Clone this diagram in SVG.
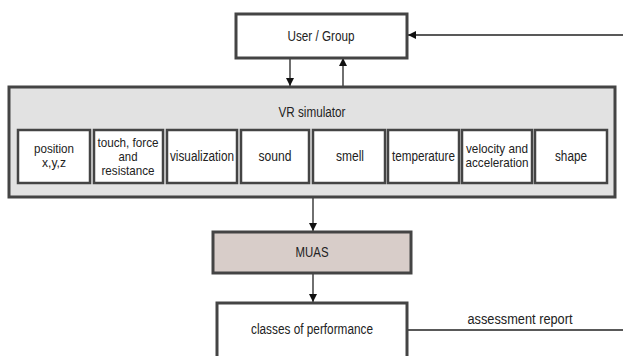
<svg xmlns="http://www.w3.org/2000/svg" width="623" height="356" viewBox="0 0 623 356">
<style>
.box{fill:#fff;stroke:#444;stroke-width:3}
.sub{fill:#fff;stroke:#444;stroke-width:2.5}
.vr{fill:#e2e2e2;stroke:#444;stroke-width:3}
.muas{fill:#d8cdc9;stroke:#444;stroke-width:3}
text{font-family:"Liberation Sans",Arial,sans-serif;font-size:14px;fill:#222;text-anchor:middle}
text.ml{font-size:13px}
.ln{stroke:#222;stroke-width:1.3;fill:none}
</style>
<defs>
<marker id="ah" markerWidth="8" markerHeight="8" refX="8" refY="4" orient="auto" markerUnits="userSpaceOnUse">
<path d="M0,0 L8,4 L0,8 Z" fill="#111"/>
</marker>
</defs>
<rect width="623" height="356" fill="#fff"/>
<g id="connectors">
<line class="ln" x1="623" y1="35" x2="408" y2="35" marker-end="url(#ah)"/>
<line class="ln" x1="290" y1="58" x2="290" y2="86" marker-end="url(#ah)"/>
<line class="ln" x1="343" y1="86" x2="343" y2="58" marker-end="url(#ah)"/>
<line class="ln" x1="313" y1="197" x2="313" y2="231" marker-end="url(#ah)"/>
<line class="ln" x1="313" y1="273" x2="313" y2="302" marker-end="url(#ah)"/>
<line class="ln" x1="407" y1="330" x2="623" y2="330"/>
<text x="520" y="324" textLength="105" lengthAdjust="spacingAndGlyphs">assessment report</text>
</g>
<g id="user-group">
<rect class="box" x="236" y="14" width="171" height="44"/>
<text x="321" y="41" textLength="67" lengthAdjust="spacingAndGlyphs">User / Group</text>
</g>
<g id="vr-simulator">
<rect class="vr" x="9" y="87" width="606" height="110"/>
<text x="312" y="117" textLength="67" lengthAdjust="spacingAndGlyphs">VR simulator</text>
</g>
<g id="position">
<rect class="sub" x="18" y="130" width="72" height="53"/>
<text class="ml" x="54" y="153" textLength="40" lengthAdjust="spacingAndGlyphs">position</text>
<text class="ml" x="54" y="167" textLength="24" lengthAdjust="spacingAndGlyphs">x,y,z</text>
</g>
<g id="touch">
<rect class="sub" x="94" y="130" width="69" height="53"/>
<text class="ml" x="128" y="147" textLength="61" lengthAdjust="spacingAndGlyphs">touch, force</text>
<text class="ml" x="128" y="161" textLength="19" lengthAdjust="spacingAndGlyphs">and</text>
<text class="ml" x="128" y="175" textLength="53" lengthAdjust="spacingAndGlyphs">resistance</text>
</g>
<g id="visualization">
<rect class="sub" x="167" y="130" width="70" height="53"/>
<text x="202" y="161" textLength="64" lengthAdjust="spacingAndGlyphs">visualization</text>
</g>
<g id="sound">
<rect class="sub" x="241" y="130" width="68" height="53"/>
<text x="275" y="161" textLength="33" lengthAdjust="spacingAndGlyphs">sound</text>
</g>
<g id="smell">
<rect class="sub" x="313" y="130" width="72" height="53"/>
<text x="350" y="161" textLength="28" lengthAdjust="spacingAndGlyphs">smell</text>
</g>
<g id="temperature">
<rect class="sub" x="388" y="130" width="71" height="53"/>
<text x="423.5" y="161" textLength="63" lengthAdjust="spacingAndGlyphs">temperature</text>
</g>
<g id="velocity">
<rect class="sub" x="462" y="130" width="70" height="53"/>
<text class="ml" x="497" y="153" textLength="62" lengthAdjust="spacingAndGlyphs">velocity and</text>
<text class="ml" x="497" y="167" textLength="63" lengthAdjust="spacingAndGlyphs">acceleration</text>
</g>
<g id="shape">
<rect class="sub" x="535" y="130" width="72" height="53"/>
<text x="571" y="161" textLength="32" lengthAdjust="spacingAndGlyphs">shape</text>
</g>
<g id="muas">
<rect class="muas" x="213" y="232" width="198" height="41"/>
<text x="312" y="257" textLength="33" lengthAdjust="spacingAndGlyphs">MUAS</text>
</g>
<g id="classes">
<rect class="box" x="217" y="303" width="190" height="60"/>
<text x="312" y="334" textLength="122" lengthAdjust="spacingAndGlyphs">classes of performance</text>
</g>
</svg>
